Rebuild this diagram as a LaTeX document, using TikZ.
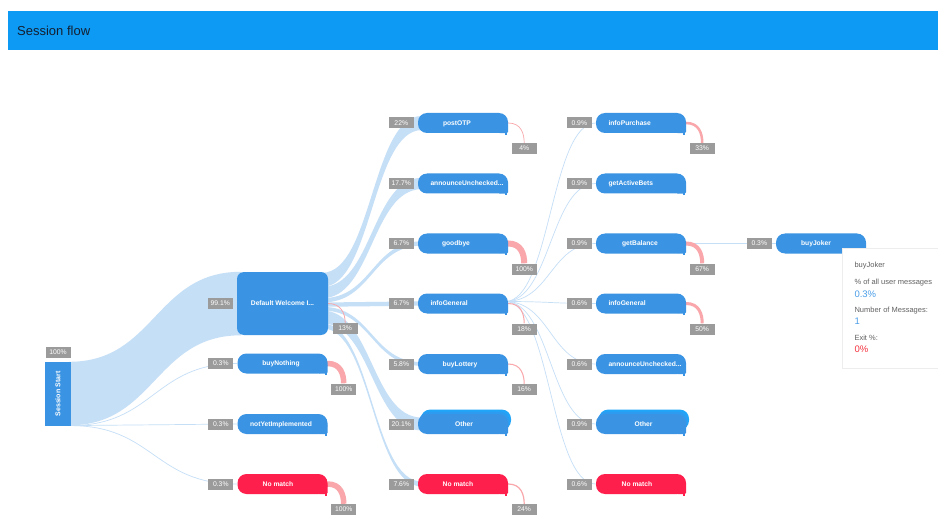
\documentclass[tikz,border=0pt]{standalone}
\usepackage{fontspec}
\setmainfont{Liberation Sans}
\usetikzlibrary{calc,shadows}
\pgfdeclarelayer{bg}
\pgfsetlayers{bg,main}

\definecolor{headblue}{RGB}{13,154,245}
\definecolor{headtext}{RGB}{20,32,48}
\definecolor{nodeblue}{RGB}{59,148,227}
\definecolor{stackA}{RGB}{45,156,240}
\definecolor{stackB}{RGB}{33,165,248}
\definecolor{nomatch}{RGB}{255,31,76}
\definecolor{labgray}{RGB}{155,155,155}
\definecolor{flowblue}{RGB}{197,223,247}
\definecolor{exitpink}{RGB}{249,167,171}
\definecolor{tipgray}{RGB}{97,97,97}
\definecolor{tipblue}{RGB}{74,158,232}
\definecolor{tipred}{RGB}{245,51,63}

% ribbon of constant width between two upper-edge points
\newcommand\ribbon[3]{%
  \fill[flowblue] let \p1=(#1), \p2=(#2) in
    (\p1) .. controls ({0.5*(\x1+\x2)},\y1) and ({0.5*(\x1+\x2)},\y2) .. (\p2)
    -- (\x2,{\y2-#3pt})
    .. controls ({0.5*(\x1+\x2)},{\y2-#3pt}) and ({0.5*(\x1+\x2)},{\y1-#3pt}) .. (\x1,{\y1-#3pt})
    -- cycle;}
% thin transition line
\newcommand\link[2]{%
  \draw[linkline] let \p1=(#1), \p2=(#2) in
    (\p1) .. controls ({0.5*(\x1+\x2)},\y1) and ({0.5*(\x1+\x2)},\y2) .. (\p2);}
% exit curve from a step down to its exit badge
\newcommand\exitflow[3]{%
  \draw[exitline, line width=#3pt] ($(#1.east)+(-6,0)$) -- (#1.east)
    .. controls ($(#1.east)+(13,0)$) and ($(#2.north)+(0,-9)$) .. (#2.north);}
% step bubble: colour, name, x, y (squared lower right corner with a small tail)
\newcommand\bubshape[4]{%
  \node[bub, fill=#1] (#2) at (#3,#4) {};
  \fill[#1, rounded corners=1.5pt] ($(#2.south east)+(-10,-10)$) rectangle (#2.south east);
  \fill[#1] ($(#2.south east)+(-3,-1)$) rectangle ($(#2.south east)+(-1.2,1.4)$);}
\newcommand\bubc[6][-3]{\bubshape{#2}{#3}{#4}{#5}%
  \node[bubtext] (#3-t) at ($(#3.center)+(#1,0)$) {#6};}
\newcommand\bubl[5]{\bubshape{#1}{#2}{#3}{#4}%
  \node[bubtext, anchor=west] (#2-t) at ($(#2.west)+(12.5,0)$) {#5};}
\newcommand\bubstack[5]{%
  \node[bub, fill=stackB] (#1-b2) at ($(#2,#3)+(3,-4.4)$) {};
  \node[bub, fill=stackA] (#1-b1) at ($(#2,#3)+(1.5,-2.2)$) {};
  \bubc[#4]{nodeblue}{#1}{#2}{#3}{#5}}
% badges
\newcommand\inlab[3]{\node[lab] (#1) at ($(#2.west)+(-16.5,0)$) {#3};}
\newcommand\outlab[3]{\node[lab] (#1) at ($(#2.east)+(16,25.5)$) {#3};}

\begin{document}
\begin{tikzpicture}[x=1pt,y=-1pt,
  bub/.style={rectangle, rounded corners=9pt, minimum width=90pt, minimum height=20pt, inner sep=0pt, draw=none},
  bubtext/.style={text=white, inner sep=0pt, font=\bfseries\fontsize{6.7}{8}\selectfont, text height=5.5pt, text depth=0.6pt},
  lab/.style={fill=labgray, text=white, minimum width=25pt, minimum height=11pt, inner sep=0pt, font=\fontsize{6.8}{8}\selectfont, text height=5.4pt, text depth=0.5pt},
  linkline/.style={draw=flowblue, line width=0.7pt},
  exitline/.style={draw=exitpink},
  tiptext/.style={text=tipgray, inner sep=0pt, anchor=west, font=\fontsize{7.5}{9}\selectfont},
  tipnum/.style={inner sep=0pt, anchor=west, font=\fontsize{9.5}{11}\selectfont},
]
\begin{pgfonlayer}{bg}
  \fill[white] (0,0) rectangle (938,516);
\end{pgfonlayer}
\useasboundingbox (0,0) rectangle (938,516);

% title bar
\node[fill=headblue, minimum width=930pt, minimum height=39pt, inner sep=0pt, anchor=north west] (header) at (8,11) {};
\node[anchor=west, text=headtext, inner sep=0pt, font=\fontsize{13}{15}\selectfont] (title) at (17,30.5) {Session flow};

% session start and welcome step
\node[fill=nodeblue, minimum width=26pt, minimum height=64pt, inner sep=0pt] (ss) at (58,394) {};
\node[bubtext, rotate=90, font=\bfseries\fontsize{7}{8}\selectfont] (ss-t) at (ss.center) {Session Start};
\node[lab] (ssl) at (58,352.5) {100\%};

\node[fill=nodeblue, rounded corners=7pt, minimum width=91pt, minimum height=63pt, inner sep=0pt] (dw) at (282.5,303.5) {};
\node[bubtext] (dw-t) at (dw.center) {Default Welcome I...};
\inlab{dwl}{dw}{99.1\%}
\node[lab] (dwx) at ($(dw.east)+(17,25)$) {13\%};

% first column
\bubc[-1.5]{nodeblue}{bn}{282.5}{363.5}{buyNothing}
\bubc[-1.5]{nodeblue}{ny}{282.5}{424}{notYetImplemented}
\bubc[-4.5]{nomatch}{nm1}{282.5}{484}{No match}
\inlab{bnl}{bn}{0.3\%}
\inlab{nyl}{ny}{0.3\%}
\inlab{nm1l}{nm1}{0.3\%}
\outlab{bnx}{bn}{100\%}
\outlab{nm1x}{nm1}{100\%}

% second column
\bubc[-6]{nodeblue}{po}{463}{123}{postOTP}
\bubl{nodeblue}{au2}{463}{183.5}{announceUnchecked...}
\bubc[-7]{nodeblue}{gb2}{463}{243.5}{goodbye}
\bubl{nodeblue}{ig2}{463}{303.5}{infoGeneral}
\bubc[-3]{nodeblue}{bl}{463}{364}{buyLottery}
\bubstack{ot2}{463}{424}{1}{Other}
\bubc[-5]{nomatch}{nm2}{463}{484}{No match}
\inlab{pol}{po}{22\%}
\inlab{au2l}{au2}{17.7\%}
\inlab{gb2l}{gb2}{6.7\%}
\inlab{ig2l}{ig2}{6.7\%}
\inlab{bll}{bl}{5.8\%}
\inlab{ot2l}{ot2}{20.1\%}
\inlab{nm2l}{nm2}{7.6\%}
\outlab{pox}{po}{4\%}
\outlab{gb2x}{gb2}{100\%}
\outlab{ig2x}{ig2}{18\%}
\outlab{blx}{bl}{16\%}
\outlab{nm2x}{nm2}{24\%}

% third column
\bubl{nodeblue}{ip}{641}{123}{infoPurchase}
\bubl{nodeblue}{ga}{641}{183.5}{getActiveBets}
\bubc[-1]{nodeblue}{gbal}{641}{243.5}{getBalance}
\bubl{nodeblue}{ig3}{641}{303.5}{infoGeneral}
\bubl{nodeblue}{au3}{641}{364}{announceUnchecked...}
\bubstack{ot3}{641}{424}{2.5}{Other}
\bubc[-4]{nomatch}{nm3}{641}{484}{No match}
\inlab{ipl}{ip}{0.9\%}
\inlab{gal}{ga}{0.9\%}
\inlab{gball}{gbal}{0.9\%}
\inlab{ig3l}{ig3}{0.6\%}
\inlab{au3l}{au3}{0.6\%}
\inlab{ot3l}{ot3}{0.9\%}
\inlab{nm3l}{nm3}{0.6\%}
\outlab{ipx}{ip}{33\%}
\outlab{gbalx}{gbal}{67\%}
\outlab{ig3x}{ig3}{50\%}

% fourth column
\bubc[-5]{nodeblue}{bj}{821}{243.5}{buyJoker}
\inlab{bjl}{bj}{0.3\%}

% hover card
\node[fill=white, draw=black!7, line width=0.5pt, drop shadow={opacity=0.18, shadow xshift=0.4pt, shadow yshift=-1.2pt}, minimum width=100pt, minimum height=120pt, inner sep=0pt, anchor=north west] (tip) at (842,247.5) {};
\node[tiptext] (tip1) at (854.3,265.5) {buyJoker};
\node[tiptext] (tip2) at (854.3,282.7) {\% of all user messages};
\node[tipnum, text=tipblue] (tip3) at (854.3,293.8) {0.3\%};
\node[tiptext] (tip4) at (854.3,310.7) {Number of Messages:};
\node[tipnum, text=tipblue] (tip5) at (854.3,321.3) {1};
\node[tiptext] (tip6) at (854.3,338.3) {Exit \%:};
\node[tipnum, text=tipred] (tip7) at (854.3,348.8) {0\%};

% flows behind the steps
\begin{pgfonlayer}{bg}
  \ribbon{$(ss.north east)+(-2,0)$}{$(dw.north west)+(4,0)$}{63.5}
  \coordinate (ssb) at ($(ss.south east)+(-1,-0.6)$);
  \link{ssb}{bn.west}
  \link{ssb}{ny.west}
  \link{ssb}{nm1.west}

  \ribbon{$(dw.north east)+(-6,1)$}{$(po.west)+(4,-7.05)$}{14.1}
  \ribbon{$(dw.north east)+(-6,15.1)$}{$(au2.west)+(4,-5.65)$}{11.3}
  \ribbon{$(dw.north east)+(-6,26.4)$}{$(gb2.west)+(4,-2.15)$}{4.3}
  \ribbon{$(dw.north east)+(-6,30.7)$}{$(ig2.west)+(4,-2.15)$}{4.3}
  \ribbon{$(dw.north east)+(-6,35)$}{$(bl.west)+(4,-1.85)$}{3.7}
  \ribbon{$(dw.north east)+(-6,38.7)$}{$(ot2.west)+(4,-6.45)$}{12.9}
  \ribbon{$(dw.north east)+(-6,51.6)$}{$(nm2.west)+(4,-2.45)$}{4.9}

  \coordinate (igo) at ($(ig2.east)+(-3,-2)$);
  \link{igo}{ip.west}
  \link{igo}{ga.west}
  \link{igo}{gbal.west}
  \link{igo}{ig3.west}
  \link{igo}{au3.west}
  \link{igo}{ot3.west}
  \link{igo}{nm3.west}
  \link{gbal.east}{bj.west}

  \exitflow{dw}{dwx}{0.8}
  \exitflow{bn}{bnx}{5.5}
  \exitflow{nm1}{nm1x}{5.5}
  \exitflow{po}{pox}{0.7}
  \exitflow{gb2}{gb2x}{6}
  \exitflow{ig2}{ig2x}{1}
  \exitflow{bl}{blx}{1}
  \exitflow{nm2}{nm2x}{1.2}
  \exitflow{ip}{ipx}{2.5}
  \exitflow{gbal}{gbalx}{4}
  \exitflow{ig3}{ig3x}{3}
\end{pgfonlayer}
\end{tikzpicture}
\end{document}
